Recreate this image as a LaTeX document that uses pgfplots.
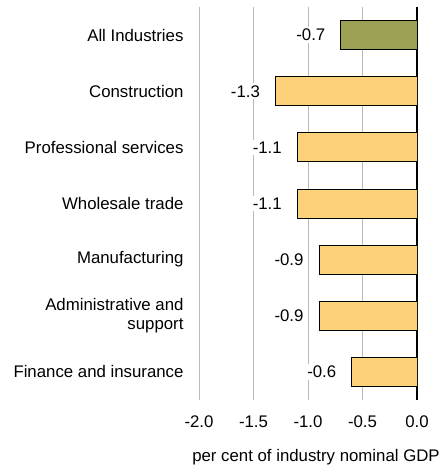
\documentclass[border=0pt]{standalone}
\usepackage{pgfplots}
\pgfplotsset{compat=1.18}
\usepackage{fontspec}
\setmainfont{Liberation Sans}
\definecolor{barolive}{RGB}{156,160,84}
\definecolor{baryellow}{RGB}{252,209,121}
\definecolor{gridgray}{RGB}{185,185,185}
\begin{document}
\begin{tikzpicture}
\useasboundingbox (0,0) rectangle (448bp,469bp);
\begin{axis}[
  at={(199bp,69bp)}, anchor=south west,
  scale only axis, width=218bp, height=393bp,
  xbar, bar width=29bp, bar shift=0pt,
  xmin=-2, xmax=0, ymin=-0.5, ymax=6.5, y dir=reverse,
  axis line style={draw=none},
  major tick length=0pt,
  font=\fontsize{16.8bp}{19bp}\selectfont,
  xtick={-2,-1.5,-1,-0.5,0},
  xticklabel style={yshift=-12.5bp, /pgf/number format/.cd, fixed, fixed zerofill, precision=1, assume math mode=true},
  ytick={0,...,6},
  yticklabels={All Industries, Construction, Professional services, Wholesale trade, Manufacturing, {Administrative and\\support}, Finance and insurance},
  yticklabel style={align=right, xshift=-12bp},
  xmajorgrids,
  grid style={gridgray, line width=1bp},
  extra x ticks={0},
  extra x tick labels={},
  extra x tick style={grid style={black, line width=2.2bp}},
  xlabel={per cent of industry nominal GDP},
  xlabel style={at={(axis description cs:0.5,0)}, anchor=center, yshift=-57bp, xshift=8bp},
  nodes near coords,
  point meta=x,
  every node near coord/.append style={anchor=east, fill=white, inner sep=2bp, xshift=-13bp, text=black,
    /pgf/number format/.cd, fixed, fixed zerofill, precision=1, assume math mode=true},
]
\addplot[draw=black, line width=0.8bp, fill=barolive] coordinates {(-0.7,0)};
\addplot[draw=black, line width=0.8bp, fill=baryellow] coordinates {
(-1.3,1)
(-1.1,2)
(-1.1,3)
(-0.9,4)
(-0.9,5)
(-0.6,6)
};
\end{axis}
\end{tikzpicture}
\end{document}
